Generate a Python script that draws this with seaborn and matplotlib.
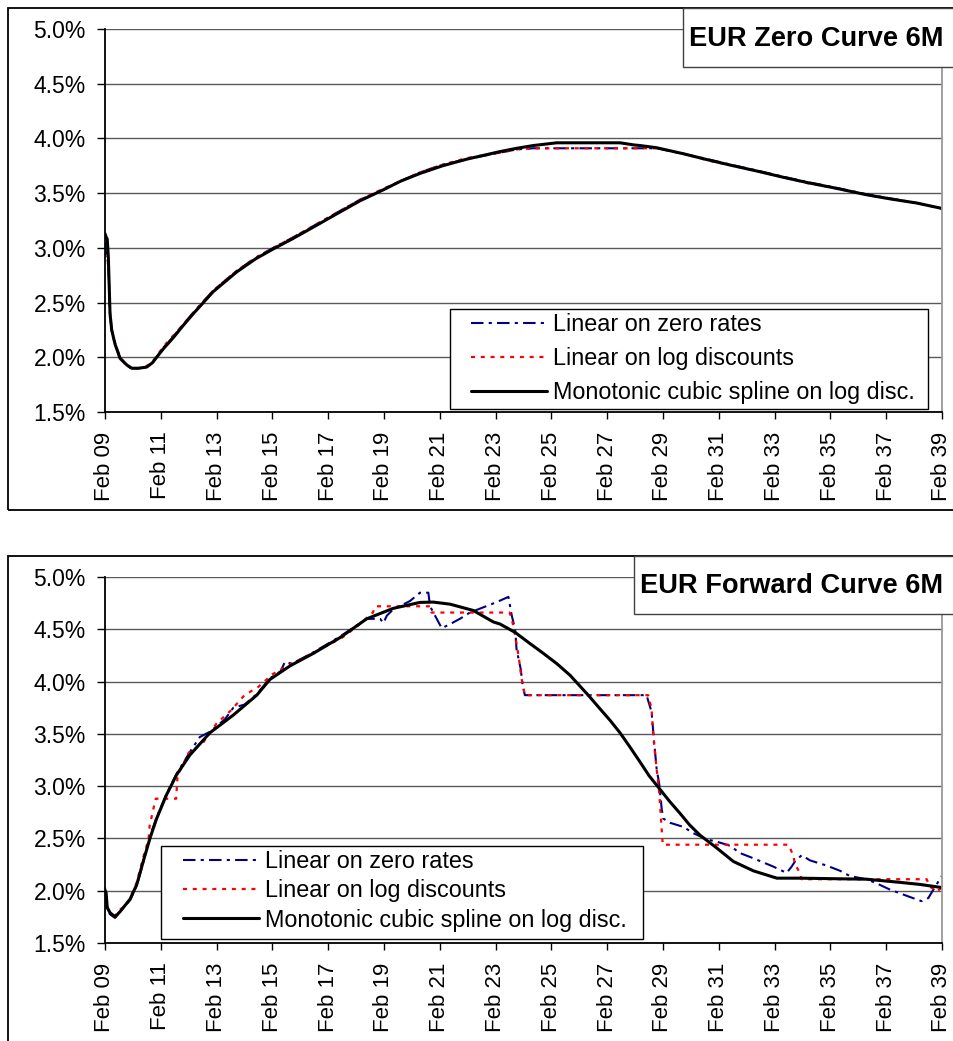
import matplotlib
matplotlib.use("Agg")
import matplotlib.pyplot as plt
from matplotlib.patches import Rectangle
from matplotlib.ticker import PercentFormatter
import seaborn as sns

# -----------------------------
# Data (x = years after Feb 2009, y = rate in %)
# -----------------------------

tick_years = [0, 2, 4, 6, 8, 10, 12, 14, 16, 18, 20, 22, 24, 26, 28, 30]
tick_labels = ["Feb 09", "Feb 11", "Feb 13", "Feb 15", "Feb 17", "Feb 19", "Feb 21", "Feb 23",
               "Feb 25", "Feb 27", "Feb 29", "Feb 31", "Feb 33", "Feb 35", "Feb 37", "Feb 39"]
y_ticks = [1.5, 2.0, 2.5, 3.0, 3.5, 4.0, 4.5, 5.0]

series_labels = ["Linear on zero rates", "Linear on log discounts",
                 "Monotonic cubic spline on log disc."]

# Zero curve
zero_t = [0.0, 0.04, 0.08, 0.12, 0.14, 0.18, 0.24, 0.36, 0.54, 0.78, 0.96, 1.2, 1.49, 1.7,
          1.85, 2.1, 2.45, 2.8, 3.17, 3.88, 4.72, 5.4, 6.03, 6.7, 7.47, 8.3, 9.14, 9.97, 10.6,
          11.29, 12.1, 12.96, 14.16, 14.76, 15.35, 16.19, 18.46, 18.97, 19.18, 19.77, 20.73,
          21.6, 22.52, 23.4, 24.31, 25.2, 26.1, 27.3, 28.2, 29.09, 30.0]
zero_spline = [3.13, 3.10, 3.08, 2.91, 2.74, 2.40, 2.25, 2.12, 1.99, 1.93, 1.90, 1.90, 1.91, 1.95,
               2.00, 2.08, 2.18, 2.29, 2.40, 2.60, 2.78, 2.90, 2.99, 3.08, 3.19, 3.31, 3.43, 3.53, 3.61,
               3.68, 3.75, 3.81, 3.88, 3.91, 3.935, 3.96, 3.96, 3.94, 3.935, 3.915, 3.86,
               3.805, 3.75, 3.70, 3.645, 3.595, 3.55, 3.485, 3.445, 3.41, 3.36]
zero_lin_rates = [3.05, 2.95, 2.90, 2.85, 2.72, 2.40, 2.24, 2.12, 1.99, 1.93, 1.90, 1.90, 1.91, 1.95,
                  2.00, 2.09, 2.19, 2.30, 2.41, 2.61, 2.79, 2.91, 3.00, 3.09, 3.20, 3.32, 3.44, 3.53, 3.61,
                  3.69, 3.76, 3.81, 3.87, 3.90, 3.91, 3.91, 3.91, 3.91, 3.91, 3.91, 3.86,
                  3.81, 3.755, 3.705, 3.65, 3.60, 3.555, 3.49, 3.45, 3.41, 3.36]
zero_lin_logdf = [2.95, 2.90, 2.88, 2.84, 2.72, 2.40, 2.25, 2.13, 2.00, 1.93, 1.89, 1.90, 1.92, 1.96,
                  2.01, 2.10, 2.20, 2.30, 2.41, 2.61, 2.79, 2.91, 3.00, 3.09, 3.20, 3.32, 3.44, 3.54, 3.61,
                  3.69, 3.76, 3.82, 3.87, 3.90, 3.91, 3.91, 3.91, 3.91, 3.91, 3.91, 3.86,
                  3.80, 3.75, 3.70, 3.645, 3.59, 3.55, 3.485, 3.445, 3.41, 3.36]

# Forward curve
fwd_spline_t = [0.0, 0.04, 0.08, 0.18, 0.36, 0.54, 0.9, 1.14, 1.37, 1.61, 1.85, 2.21, 2.57, 3.05,
                3.76, 4.6, 5.44, 5.91, 6.63, 7.47, 8.42, 9.38, 10.33, 11.29, 11.77, 12.37, 13.2,
                13.92, 14.16, 14.7, 15.2, 15.71, 16.2, 16.67, 17.32, 17.74, 18.1, 18.46, 18.8, 19.18,
                19.5, 19.89, 20.25, 20.61, 20.95, 21.33, 21.92, 22.52, 23.24, 24.08, 24.91, 27.3,
                28.49, 29.21, 30.0]
fwd_spline = [2.00, 1.98, 1.84, 1.79, 1.75, 1.80, 1.92, 2.06, 2.28, 2.50, 2.69, 2.92, 3.11, 3.30,
              3.51, 3.68, 3.87, 4.02, 4.15, 4.27, 4.42, 4.60, 4.70, 4.757, 4.76, 4.74, 4.68,
              4.57, 4.55, 4.47, 4.37, 4.27, 4.17, 4.06, 3.87, 3.74, 3.63, 3.51, 3.38, 3.23,
              3.10, 2.97, 2.85, 2.74, 2.63, 2.53, 2.41, 2.28, 2.19, 2.12, 2.12, 2.11,
              2.08, 2.06, 2.03]

fwd_lin_rates_t = [0.0, 0.05, 0.1, 0.2, 0.36, 0.54, 0.9, 1.14, 1.37, 1.61, 1.85, 2.21, 2.57, 3.05,
                   3.4, 3.76, 4.3, 4.6, 5.0, 5.44, 5.91, 6.3, 6.45, 6.7, 7.47, 8.42, 9.38, 9.86,
                   9.98, 10.1, 10.33, 10.93, 11.29, 11.59, 11.65, 11.89, 12.07, 12.37, 12.72,
                   13.08, 13.56, 14.04, 14.46, 14.58, 14.7, 14.75, 14.9, 14.97, 15.05, 19.41,
                   19.59, 19.68, 19.77, 19.87, 19.95, 20.01, 20.25, 20.73, 21.09, 21.57, 21.92,
                   22.4, 22.76, 23.24, 23.96, 24.43, 24.61, 24.73, 24.97, 25.27, 25.87, 26.35,
                   26.7, 27.3, 27.66, 28.14, 28.85, 29.27, 29.51, 29.69, 29.99]
fwd_lin_rates = [2.03, 1.90, 1.80, 1.77, 1.74, 1.80, 1.91, 2.05, 2.27, 2.52, 2.70, 2.93, 3.12, 3.33,
                 3.47, 3.52, 3.64, 3.75, 3.78, 3.88, 4.03, 4.10, 4.19, 4.17, 4.28, 4.43, 4.60, 4.60,
                 4.56, 4.63, 4.69, 4.77, 4.85, 4.85, 4.72, 4.60, 4.51, 4.55, 4.60,
                 4.66, 4.71, 4.76, 4.81, 4.63, 4.50, 4.31, 4.12, 3.96, 3.87, 3.87,
                 3.71, 3.43, 3.17, 3.01, 2.79, 2.69, 2.65, 2.61, 2.55, 2.49, 2.47,
                 2.43, 2.36, 2.31, 2.23, 2.17, 2.23, 2.28, 2.34, 2.29, 2.24, 2.19,
                 2.14, 2.11, 2.07, 2.01, 1.94, 1.90, 1.93, 2.01, 2.14]

fwd_lin_logdf_t = [0.0, 0.05, 0.1, 0.2, 0.36, 0.54, 0.75, 0.9, 1.14, 1.37, 1.56, 1.6, 1.79, 1.82,
                   2.55, 2.6, 3.0, 3.5, 4.0, 4.5, 5.0, 5.5, 6.0, 6.6, 7.5, 8.5, 9.0, 9.6, 9.7,
                   11.65, 11.7, 14.5, 14.58, 14.7, 14.82, 14.93, 15.05, 19.47, 19.59, 19.65,
                   19.77, 19.87, 19.95, 19.99, 24.49, 24.67, 24.73, 24.87, 24.97, 29.45, 29.57,
                   29.81, 29.99]
fwd_lin_logdf = [2.02, 1.95, 1.82, 1.78, 1.76, 1.82, 1.86, 1.93, 2.08, 2.32, 2.49, 2.62, 2.85, 2.88,
                 2.88, 3.10, 3.32, 3.41, 3.60, 3.72, 3.87, 3.95, 4.07, 4.16, 4.28, 4.42, 4.52, 4.66, 4.72,
                 4.72, 4.66, 4.66, 4.60, 4.44, 4.25, 4.03, 3.87, 3.87, 3.74, 3.48,
                 3.17, 2.92, 2.60, 2.44, 2.44, 2.34, 2.25, 2.19, 2.11, 2.11, 2.04,
                 1.99, 2.03]

# -----------------------------
# Style
# -----------------------------

sns.set_theme(style="white")
plt.rcParams["font.family"] = ["Liberation Sans", "DejaVu Sans"]
plt.rcParams["text.color"] = "black"

W, H = 954, 1041
fig = plt.figure(figsize=(W / 100, H / 100), dpi=100)


def fx(px):
    return px / W


def fy(py):
    return 1 - py / H


line_styles = [
    dict(color="#000080", linestyle=(0, (6, 2.5, 1.5, 2.5)), linewidth=1.5),
    dict(color="#ff0000", linestyle=(0, (1.8, 2.6)), linewidth=1.6),
    dict(color="black", linestyle="-", linewidth=2.2),
]


def draw_panel(top, bottom, series, title, title_box, legend_box, legend_anchor, spacing):
    ax = fig.add_axes([fx(105), fy(bottom), fx(942) - fx(105), (bottom - top) / H])

    for (t, v), style, label in zip(series, line_styles, series_labels):
        sns.lineplot(x=t, y=v, ax=ax, label=label, estimator=None, sort=False, **style)

    ax.set_xlim(0, 30)
    ax.set_ylim(1.5, 5.0)
    ax.set_xticks(tick_years)
    ax.set_xticklabels(tick_labels, rotation=90)
    ax.set_yticks(y_ticks)
    ax.yaxis.set_major_formatter(PercentFormatter(100, decimals=1))
    ax.set_xlabel("")
    ax.set_ylabel("")

    ax.grid(axis="y", color="#5a5a5a", linewidth=1)
    ax.grid(axis="x", visible=False)
    ax.set_axisbelow(True)

    ax.spines["top"].set_visible(False)
    ax.spines["left"].set_color("black")
    ax.spines["bottom"].set_color("black")
    ax.spines["right"].set_color("#999999")
    for s in ["left", "bottom", "right"]:
        ax.spines[s].set_linewidth(1.3)

    ax.tick_params(axis="y", left=True, direction="out", length=5.8, width=1,
                   pad=8, labelsize=16.5, colors="black")
    ax.tick_params(axis="x", bottom=True, direction="out", length=5, width=1,
                   pad=9, labelsize=16, colors="black")

    # legend with its own white box
    x0, y0, x1, y1 = legend_box
    ax.add_patch(Rectangle((fx(x0), fy(y1)), fx(x1) - fx(x0), fy(y0) - fy(y1),
                           transform=fig.transFigure, facecolor="white",
                           edgecolor="black", linewidth=1, zorder=4, clip_on=False))
    ax.legend(loc="upper left", bbox_to_anchor=(fx(legend_anchor[0]), fy(legend_anchor[1])),
              bbox_transform=fig.transFigure, frameon=False, fontsize=16.8,
              handlelength=3.25, handletextpad=0.25, borderpad=0, borderaxespad=0,
              labelspacing=spacing)

    # title box in the top right corner
    bx0, by0, by1 = title_box
    fig.add_artist(Rectangle((fx(bx0), fy(by1)), 1.0, fy(by0) - fy(by1),
                             transform=fig.transFigure, facecolor="white",
                             edgecolor="#404040", linewidth=1))
    fig.text(fx(bx0 + 6), fy((by0 + by1) / 2 + 1), title, fontsize=19.6,
             fontweight="bold", ha="left", va="center")
    return ax


# chart area frames
fig.add_artist(Rectangle((fx(8), fy(510)), 1.0, fy(8) - fy(510), transform=fig.transFigure,
                         fill=False, edgecolor="black", linewidth=1.3))
fig.add_artist(Rectangle((fx(8), -0.1), 1.0, fy(556) + 0.1, transform=fig.transFigure,
                         fill=False, edgecolor="black", linewidth=1.3))

draw_panel(29, 412,
           [(zero_t, zero_lin_rates), (zero_t, zero_lin_logdf), (zero_t, zero_spline)],
           "EUR Zero Curve 6M", (683, 8, 67), (450, 309, 928, 409), (471, 313), 0.48)

draw_panel(577, 943,
           [(fwd_lin_rates_t, fwd_lin_rates), (fwd_lin_logdf_t, fwd_lin_logdf),
            (fwd_spline_t, fwd_spline)],
           "EUR Forward Curve 6M", (634, 556, 614), (161, 846, 643, 939), (183, 850), 0.27)

plt.savefig("out.png", dpi=100)
